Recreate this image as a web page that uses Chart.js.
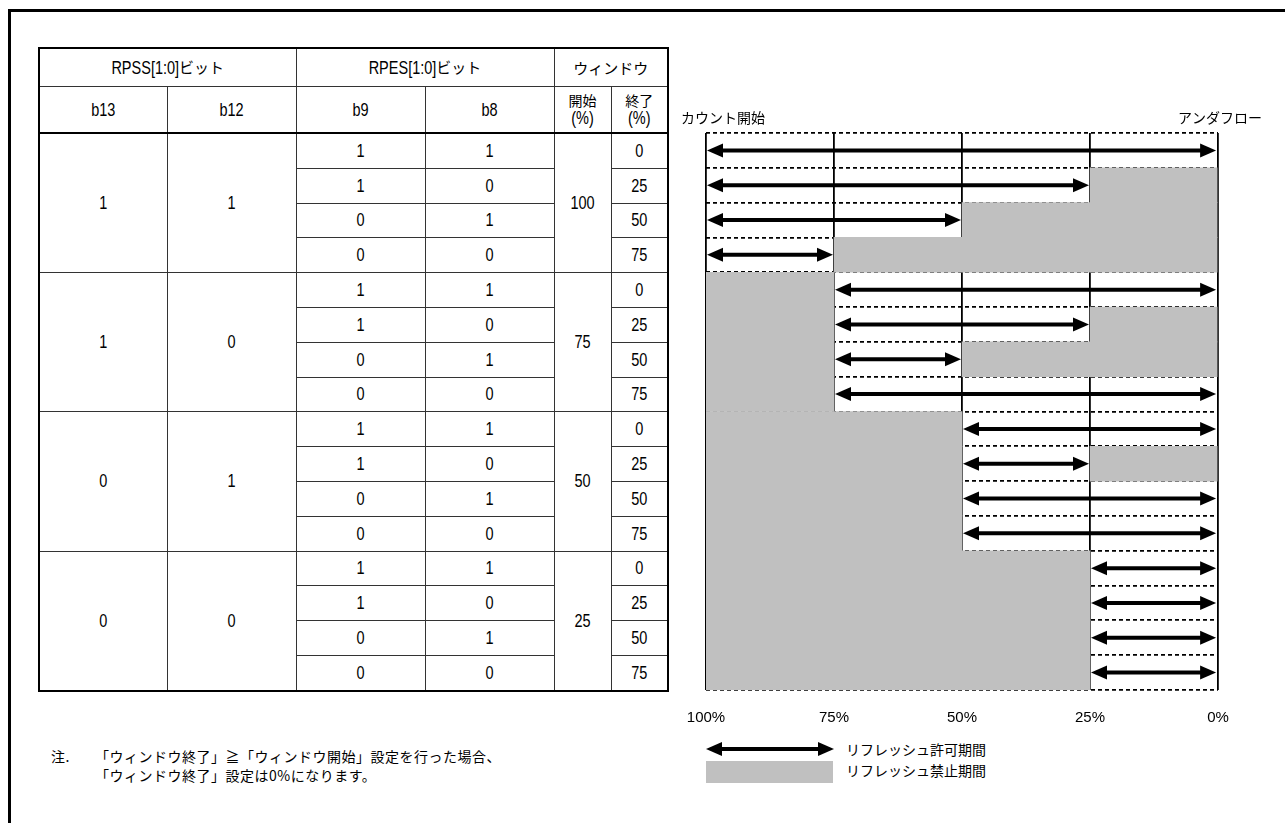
<!DOCTYPE html>
<html>
<head>
<meta charset="utf-8">
<script src="https://cdn.jsdelivr.net/npm/chart.js@4.4.1/dist/chart.umd.min.js"></script>
<style>
body { margin:0; width:1285px; height:823px; background:#fff; position:relative; overflow:hidden;
  font-family:"Liberation Sans", Arial, "Noto Sans CJK JP", sans-serif; color:#000; }
.n { display:inline-block; transform:scaleY(1.25); font-family:"Liberation Sans", Arial, sans-serif; font-size:14.5px; }
#frame { position:absolute; left:8px; top:9px; width:1300px; height:830px; border-top:3px solid #000; border-left:3px solid #000; }
#tbl { position:absolute; left:38px; top:47px; border-collapse:collapse; table-layout:fixed; width:631px; border:2px solid #000; }
#tbl td { border:1px solid #333; text-align:center; vertical-align:middle; font-size:14px; padding:0; line-height:17px;
  font-family:"Noto Sans CJK JP", sans-serif; }
#tbl td.jp { font-size:15px; }
#tbl tr.h1 td { height:37px; }
#tbl tr.h2 td { height:45px; border-bottom:2px solid #000; }
#tbl tr.d td { height:33.8px; }
#wrap { position:absolute; left:640px; top:95px; width:640px; height:640px; }
#note { position:absolute; left:51px; top:747px; font-size:14px; line-height:19px; letter-spacing:0.5px; font-family:"Noto Sans CJK JP", sans-serif; }
#note span.t { display:inline-block; width:44px; }
#legend { position:absolute; left:706px; top:740px; font-size:14px; font-family:"Noto Sans CJK JP", sans-serif; }
</style>
</head>
<body>
<div id="frame"></div>
<table id="tbl">
  <colgroup><col style="width:128px"><col style="width:129px"><col style="width:129px"><col style="width:129px"><col style="width:57px"><col style="width:57px"></colgroup>
  <tbody id="tbody">
    <tr class="h1"><td colspan="2" class="jp"><span class="n">RPSS[1:0]</span>ビット</td><td colspan="2" class="jp"><span class="n">RPES[1:0]</span>ビット</td><td colspan="2" class="jp">ウィンドウ</td></tr>
    <tr class="h2"><td><span class="n">b13</span></td><td><span class="n">b12</span></td><td><span class="n">b9</span></td><td><span class="n">b8</span></td><td>開始<br><span class="n">(%)</span></td><td>終了<br><span class="n">(%)</span></td></tr>
  </tbody>
</table>
<div id="wrap"><canvas id="c"></canvas></div>
<div id="note"><span class="t">注.</span>「ウィンドウ終了」≧「ウィンドウ開始」設定を行った場合、<br><span class="t"></span>「ウィンドウ終了」設定は0%になります。</div>
<div id="legend">
  <svg width="128" height="18" style="position:absolute;left:0;top:0">
    <line x1="12" y1="9" x2="116" y2="9" stroke="#000" stroke-width="4"/>
    <polygon points="0,9 16,2 16,16" fill="#000"/>
    <polygon points="128,9 112,2 112,16" fill="#000"/>
  </svg>
  <div style="position:absolute;left:0;top:21px;width:127px;height:22px;background:#c0c0c0"></div>
  <div style="position:absolute;left:140px;top:0;white-space:nowrap;line-height:18px">リフレッシュ許可期間</div>
  <div style="position:absolute;left:140px;top:21px;white-space:nowrap;line-height:18px">リフレッシュ禁止期間</div>
</div>
<script>
// table bits
var b13 = [1,1,1,1, 1,1,1,1, 0,0,0,0, 0,0,0,0];
var b12 = [1,1,1,1, 0,0,0,0, 1,1,1,1, 0,0,0,0];
var b9  = [1,1,0,0, 1,1,0,0, 1,1,0,0, 1,1,0,0];
var b8  = [1,0,1,0, 1,0,1,0, 1,0,1,0, 1,0,1,0];
// window settings (%)
var winStart = [100,100,100,100, 75,75,75,75, 50,50,50,50, 25,25,25,25];
var winEnd   = [0,25,50,75, 0,25,50,75, 0,25,50,75, 0,25,50,75];
// effective end (end >= start -> 0%)
var effEnd   = [0,25,50,75, 0,25,50,0, 0,25,0,0, 0,0,0,0];
var xTicks = [100,75,50,25,0];
var rowLabels = [];
for (var i=0;i<16;i++) rowLabels.push('row'+(i+1));

function n(v){ return '<span class="n">'+v+'</span>'; }
var tb = document.getElementById('tbody');
for (var i=0;i<16;i++){
  var tr = document.createElement('tr'); tr.className='d';
  var h = '';
  if (i%4==0) h += '<td rowspan="4">'+n(b13[i])+'</td><td rowspan="4">'+n(b12[i])+'</td>';
  h += '<td>'+n(b9[i])+'</td><td>'+n(b8[i])+'</td>';
  if (i%4==0) h += '<td rowspan="4">'+n(winStart[i])+'</td>';
  h += '<td>'+n(winEnd[i])+'</td>';
  tr.innerHTML = h;
  tb.appendChild(tr);
}

var FONT = '"Liberation Sans", Arial, "Noto Sans CJK JP", sans-serif';
Chart.defaults.font.family = FONT;
Chart.defaults.color = '#000';

var before = [], after = [], allowed = [];
for (var i=0;i<16;i++){
  before.push(winStart[i] < 100 ? [100, winStart[i]] : null);
  after.push(effEnd[i] > 0 ? [effEnd[i], 0] : null);
  allowed.push([winStart[i], effEnd[i]]);
}

var arrows = {
  id:'arrows',
  afterDraw: function(chart){
    var ctx = chart.ctx, meta = chart.getDatasetMeta(2);
    ctx.save();
    ctx.fillStyle = '#000'; ctx.strokeStyle = '#000'; ctx.lineWidth = 4;
    meta.data.forEach(function(el){
      var x1 = Math.min(el.x, el.base) + 1, x2 = Math.max(el.x, el.base) - 1, y = el.y;
      ctx.beginPath(); ctx.moveTo(x1+12, y); ctx.lineTo(x2-12, y); ctx.stroke();
      ctx.beginPath(); ctx.moveTo(x1, y); ctx.lineTo(x1+16, y-7); ctx.lineTo(x1+16, y+7); ctx.closePath(); ctx.fill();
      ctx.beginPath(); ctx.moveTo(x2, y); ctx.lineTo(x2-16, y-7); ctx.lineTo(x2-16, y+7); ctx.closePath(); ctx.fill();
    });
    var a = chart.chartArea;
    ctx.font = '14px "Noto Sans CJK JP", sans-serif'; ctx.textBaseline = 'alphabetic';
    ctx.textAlign = 'left'; ctx.fillText('カウント開始', a.left - 25, a.top - 10);
    ctx.textAlign = 'right'; ctx.fillText('アンダフロー', a.right + 44, a.top - 10);
    ctx.restore();
  }
};

new Chart(document.getElementById('c'), {
  type:'bar',
  data:{
    labels: rowLabels,
    datasets:[
      {data: before, backgroundColor:'#c0c0c0', grouped:false},
      {data: after, backgroundColor:'#c0c0c0', grouped:false},
      {data: allowed, backgroundColor:'rgba(0,0,0,0)', grouped:false}
    ]
  },
  options:{
    indexAxis:'y', responsive:true, maintainAspectRatio:false, animation:false,
    datasets:{ bar:{ categoryPercentage:1, barPercentage:1, borderWidth:0 } },
    layout:{ padding:{ left:66, right:62, top:38, bottom:5 } },
    plugins:{ legend:{display:false}, tooltip:{enabled:false} },
    scales:{
      x:{ type:'linear', reverse:true, min:0, max:100, z:1,
          afterBuildTicks: function(s){ s.ticks = xTicks.map(function(v){ return {value:v}; }); },
          afterFit: function(s){ s.height = 40; },
          ticks:{ callback:function(v){ return v + '%'; }, font:{size:15}, color:'#000', padding:19, maxRotation:0, autoSkip:false },
          grid:{ color:'#000', lineWidth:1.8, drawTicks:false },
          border:{ display:false } },
      y:{ type:'category', z:1,
          ticks:{ display:false },
          grid:{ color:'#000', lineWidth:1.8, drawTicks:false, offset:true },
          border:{ display:false, dash:[4,3] } }
    }
  },
  plugins:[arrows]
});
</script>
</body>
</html>
